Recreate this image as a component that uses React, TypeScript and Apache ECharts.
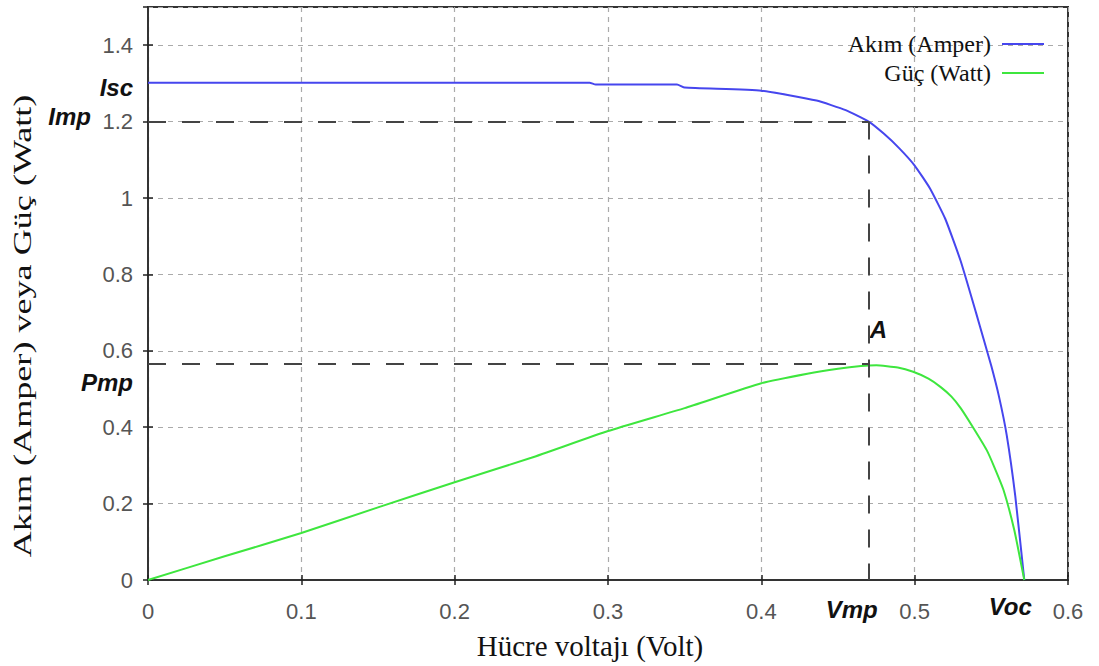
import React, { useEffect, useRef } from "react";
import * as echarts from "echarts";

// Current (Amper) curve
const voltageI = [0, 0.1, 0.2, 0.288, 0.292, 0.345, 0.35, 0.4, 0.436, 0.455, 0.47, 0.48, 0.49, 0.5, 0.51, 0.52, 0.53, 0.54, 0.545, 0.55, 0.555, 0.56, 0.5656, 0.5715];
const current = [1.302, 1.302, 1.302, 1.302, 1.297, 1.297, 1.289, 1.281, 1.255, 1.23, 1.2, 1.168, 1.13, 1.085, 1.025, 0.945, 0.835, 0.7, 0.63, 0.56, 0.48, 0.38, 0.22, 0];

// Power (Watt) curve
const voltageP = [0, 0.05, 0.1, 0.15, 0.2, 0.25, 0.3, 0.35, 0.4, 0.43, 0.45, 0.465, 0.475, 0.489, 0.499, 0.509, 0.517, 0.524, 0.53, 0.538, 0.547, 0.552, 0.558, 0.565, 0.5715];
const power = [0, 0.062, 0.123, 0.19, 0.256, 0.32, 0.39, 0.45, 0.515, 0.54, 0.553, 0.56, 0.562, 0.556, 0.545, 0.527, 0.505, 0.48, 0.45, 0.4, 0.34, 0.295, 0.235, 0.13, 0];

// Key points
const Isc = 1.302;
const Imp = 1.2;
const Vmp = 0.47;
const Pmp = 0.567;
const Voc = 0.5715;

const seriesNames = ["Akım (Amper)", "Güç (Watt)"];
const xTitle = "Hücre voltajı (Volt)";
const yTitle = "Akım (Amper) veya Güç (Watt)";

const SANS = "Liberation Sans, Arial, sans-serif";
const SERIF = "Liberation Serif, Times New Roman, serif";

export default function App() {
  const ref = useRef<HTMLDivElement>(null);
  useEffect(() => {
    if (!ref.current) return;
    const chart = echarts.init(ref.current, undefined, { renderer: "svg" });
    const gridLine = { show: true, lineStyle: { color: "#aaa", width: 1.2, type: [5, 5] as any } };
    const option: any = {
      animation: false,
      backgroundColor: "#fff",
      grid: { left: 148, right: 31, top: 7, bottom: 86, show: true, borderColor: "#333", borderWidth: 2, backgroundColor: "transparent" },
      legend: {
        data: seriesNames,
        orient: "vertical",
        right: 50,
        top: 27,
        align: "right",
        icon: "rect",
        itemWidth: 42,
        itemHeight: 2,
        itemGap: 5,
        textStyle: { fontFamily: SERIF, fontSize: 24, color: "#111", lineHeight: 23, padding: [0, 6, 0, 0] },
      },
      xAxis: [
        {
          type: "value",
          min: 0,
          max: 0.6,
          interval: 0.1,
          axisLine: { show: true, onZero: false, lineStyle: { color: "#333", width: 2 } },
          axisTick: { show: true, inside: true, length: 5, lineStyle: { color: "#222", width: 1.5 } },
          axisLabel: { fontFamily: SANS, fontSize: 22, color: "#555", margin: 20 },
          splitLine: gridLine,
        },
        {
          type: "value",
          position: "top",
          min: 0,
          max: 0.6,
          interval: 0.1,
          axisLine: { show: false },
          axisTick: { show: true, inside: true, length: 5, lineStyle: { color: "#222", width: 1.5 } },
          axisLabel: { show: false },
          splitLine: { show: false },
        },
      ],
      yAxis: [
        {
          type: "value",
          min: 0,
          max: 1.5,
          interval: 0.2,
          axisLine: { show: true, onZero: false, lineStyle: { color: "#333", width: 2 } },
          axisTick: { show: true, inside: true, length: 5, lineStyle: { color: "#222", width: 1.5 } },
          axisLabel: { fontFamily: SANS, fontSize: 22, color: "#555", margin: 15, showMaxLabel: false },
          splitLine: gridLine,
        },
        {
          type: "value",
          position: "right",
          min: 0,
          max: 1.5,
          interval: 0.2,
          axisLine: { show: false },
          axisTick: { show: true, inside: true, length: 5, lineStyle: { color: "#222", width: 1.5 } },
          axisLabel: { show: false },
          splitLine: { show: false },
        },
      ],
      series: [
        {
          name: seriesNames[0],
          type: "line",
          data: voltageI.map((v, i) => [v, current[i]]),
          symbol: "none",
          smooth: 0.15,
          lineStyle: { color: "#4646ee", width: 2 },
          itemStyle: { color: "#4646ee" },
          z: 3,
          markLine: {
            silent: true,
            symbol: ["none", "none"],
            label: { show: false },
            lineStyle: { color: "#444", width: 2, type: [18, 16] },
            data: [
              [{ coord: [0, Imp] }, { coord: [Vmp, Imp] }],
              [{ coord: [Vmp, Imp] }, { coord: [Vmp, 0] }],
              [{ coord: [0, Pmp] }, { coord: [Vmp, Pmp] }],
            ],
          },
        },
        {
          name: seriesNames[1],
          type: "line",
          data: voltageP.map((v, i) => [v, power[i]]),
          symbol: "none",
          smooth: 0.15,
          lineStyle: { color: "#3ee63e", width: 2 },
          itemStyle: { color: "#3ee63e" },
          z: 3,
        },
      ],
    };
    chart.setOption(option);

    const px = (x: number, y: number) => chart.convertToPixel({ xAxisIndex: 0, yAxisIndex: 0 }, [x, y]) as number[];
    const o = px(0, 0);
    const pIsc = px(0, Isc);
    const pImp = px(0, Imp);
    const pPmp = px(0, Pmp);
    const pVmp = px(Vmp, 0);
    const pVoc = px(Voc, 0);
    const pA = px(Vmp, Pmp);
    const mark = { fontFamily: SANS, fontSize: 24, fontWeight: "bold", fontStyle: "italic", fill: "#111" };
    chart.setOption({
      graphic: [
        { type: "text", x: pIsc[0] - 15, y: pIsc[1] + 5, style: { ...mark, text: "Isc", align: "right", verticalAlign: "middle" } },
        { type: "text", x: pImp[0] - 57, y: pImp[1] - 5, style: { ...mark, text: "Imp", align: "right", verticalAlign: "middle" } },
        { type: "text", x: pPmp[0] - 15, y: pPmp[1] + 19, style: { ...mark, text: "Pmp", align: "right", verticalAlign: "middle" } },
        { type: "text", x: pVmp[0] + 9, y: o[1] + 29, style: { ...mark, text: "Vmp", align: "right", verticalAlign: "middle" } },
        { type: "text", x: pVoc[0] - 14, y: o[1] + 26, style: { ...mark, text: "Voc", align: "center", verticalAlign: "middle" } },
        { type: "text", x: pA[0] + 1, y: pA[1] - 34, style: { ...mark, text: "A", align: "left", verticalAlign: "middle" } },
        {
          type: "text",
          x: 590,
          y: 646,
          scaleY: 1.05,
          style: { text: xTitle, fontFamily: SERIF, fontSize: 29, fill: "#111", align: "center", verticalAlign: "middle" },
        },
        {
          type: "text",
          x: 22,
          y: 326,
          rotation: Math.PI / 2,
          scaleX: 1.39,
          style: { text: yTitle, fontFamily: SERIF, fontSize: 26, fill: "#111", align: "center", verticalAlign: "middle" },
        },
      ],
    });
    return () => chart.dispose();
  }, []);
  return <div ref={ref} style={{ position: "absolute", left: 0, top: 0, width: 1099, height: 666 }} />;
}
